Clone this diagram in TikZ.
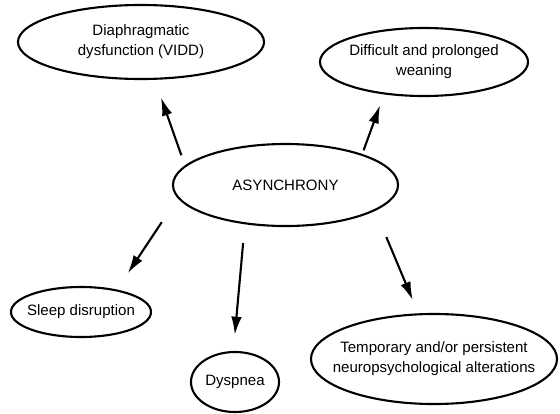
\documentclass[tikz,border=0pt]{standalone}
\usepackage{fontspec}
\setmainfont{Liberation Sans}
\usepackage{tikz}
\usetikzlibrary{arrows.meta,shapes.geometric}
\tikzstyle{bubble}=[ellipse,draw,line width=1.5pt,align=center,inner xsep=-14pt,inner ysep=0pt,font=\fontsize{10.7}{14.2}\selectfont]
\tikzstyle{effect} = [draw,line width=1.5pt,-{Latex[length=13pt,width=7.5pt]}]

\begin{document}
\begin{tikzpicture}[x=0.025cm,y=-0.025cm]
    \useasboundingbox (0,0) rectangle (560,414);
    % Draw the central asynchrony and its consequences
    % First we draw the ellipses
    \foreach \pos/\name/\w/\h/\txt in {{(285.5,185)/asyn/5.625/2.05/ASYNCHRONY},
        {(141,42)/diaph/6.15/1.85/{Diaphragmatic\\dysfunction (VIDD)}},
        {(424,62)/wean/5.2/1.7/{Difficult and prolonged\\weaning}},
        {(81,312)/sleep/3.5/1.25/Sleep disruption},
        {(235,382)/dysp/2.2/1.5/Dyspnea},
        {(434,359)/neuro/6.15/2.25/{Temporary and/or persistent\\neuropsychological alterations}}}
        \node[bubble,minimum width=\w cm,minimum height=\h cm] (\name) at \pos {\txt};

    % Then the arrows from asynchrony outwards
    \foreach \source/\a/\dest/\b/\s/\t in {asyn/169/diaph/-70/7.7/13.3, asyn/22/wean/-141/2.8/8.1,
        asyn/187/sleep/32/20.4/13.9, asyn/-136/dysp/93/13.4/11.4, asyn/-16/neuro/109/20.3/10.2}
        \path[effect,shorten <=\s pt,shorten >=\t pt] (\source.\a) -- (\dest.\b);

\end{tikzpicture}
\end{document}
